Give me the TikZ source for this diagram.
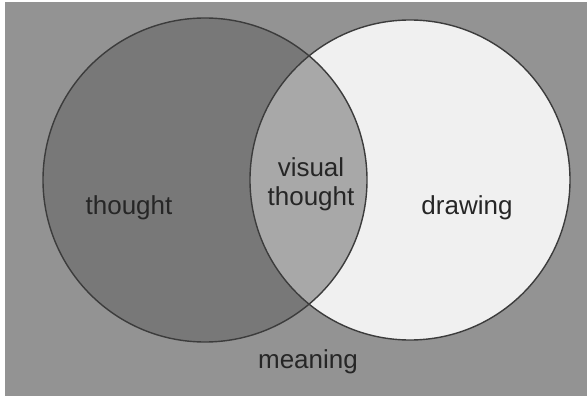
\documentclass[tikz,border=0pt]{standalone}
\usepackage{fontspec}
\setmainfont{Liberation Sans}
\definecolor{bggray}{RGB}{147,147,147}
\definecolor{thoughtgray}{RGB}{120,120,120}
\definecolor{visualgray}{RGB}{168,168,168}
\definecolor{drawgray}{RGB}{240,240,240}
\definecolor{edgegray}{RGB}{60,60,60}
\tikzset{
    label/.style={font=\fontsize{26}{29}\selectfont, text=black!85, align=center, inner sep=0pt},
    rim/.style={draw=edgegray, line width=1.4pt}
}
\begin{document}
\begin{tikzpicture}[x=1pt, y=-1pt]
    % 1. Nền
    \useasboundingbox (0,0) rectangle (587,396);
    \fill[white] (0,0) rectangle (587,396);
    \fill[bggray] (5,2) rectangle (587,396);

    % 2. Hai hình tròn
    \fill[thoughtgray] (205,180) circle (162);
    \fill[drawgray] (410,180) circle (160);
    \begin{scope}
        \clip (205,180) circle (162);
        \fill[visualgray] (410,180) circle (160);
    \end{scope}
    \draw[rim] (205,180) circle (162);
    \draw[rim] (410,180) circle (160);

    % 3. Nhãn
    \node[label] (thought) at (129,208) {thought};
    \node[label] (visual) at (311,184) {visual\\thought};
    \node[label] (drawing) at (467,208) {drawing};
    \node[label] (meaning) at (308,362) {meaning};
\end{tikzpicture}
\end{document}
